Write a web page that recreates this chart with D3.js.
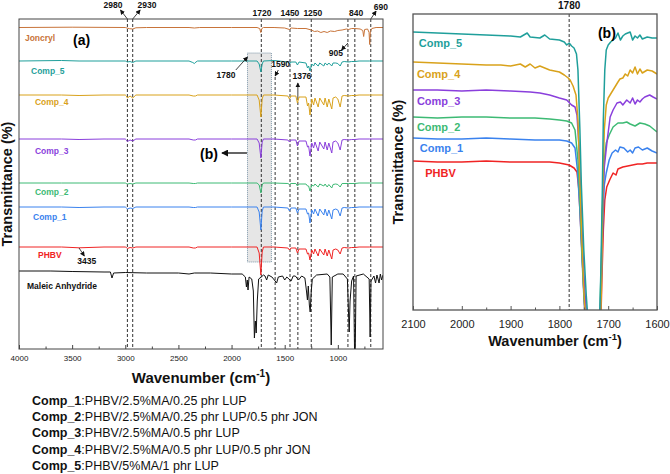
<!DOCTYPE html>
<html>
<head>
<meta charset="utf-8">
<script src="https://cdn.jsdelivr.net/npm/d3@7"></script>
<style>
  body { margin: 0; background: #fff; }
  svg { display: block; font-family: "Liberation Sans", Arial, sans-serif; }
</style>
</head>
<body>
<script>
// ---------- data: panel (a), [wavenumber, change from baseline] ----------
const seriesNames = ["Joncryl", "Comp_5", "Comp_4", "Comp_3", "Comp_2", "Comp_1", "PHBV", "Maleic Anhydride"];
const seriesOffsets = [321.5, 288, 254, 210, 166, 142, 102, 78];

const joncryl = [[4000,0],[3500,0.3],[3000,0],[2985,-0.5],[2960,-1.2],[2930,-1.5],[2900,-0.3],[2800,0],[2400,0],[2350,-0.5],[2300,0],[2000,0],
  [1760,0],[1735,-1],[1725,-5],[1715,-1],[1700,0],[1600,0],[1500,-0.5],[1455,-2],[1440,-0.5],[1380,-1],[1300,-1],[1250,-2.5],[1220,-4],
  [1190,-3.5],[1160,-5],[1130,-4],[1100,-5],[1070,-3.5],[1030,-4],[1000,-3],[960,-2.5],[920,-1.5],[900,-2],[870,-1],[840,-1],[790,-1.5],
  [765,-3],[757,-9],[748,-2],[720,-1.5],[706,-5],[700,-17],[694,-4],[680,-1],[640,0],[575,0]];
const comp5 = [[4000,0],[3600,0.5],[3435,0],[3200,0],[3000,0],[2990,-0.5],[2980,-1],[2955,-0.5],[2930,-1.5],[2900,0],[2400,0],[2365,-1.5],
  [2350,-2.5],[2335,-1],[2320,0],[2000,0],[1760,0],[1740,-3],[1724,-11],[1712,-3],[1700,0],[1600,0.5],[1470,-1],[1455,-3],[1440,-1],
  [1395,-1],[1380,-4],[1365,-1],[1300,-2],[1285,-7],[1275,-5],[1262,-10],[1245,-3],[1228,-5],[1215,-2],[1185,-5],[1170,-2],[1132,-5],
  [1120,-2],[1100,-4],[1085,-2],[1057,-5],[1045,-2],[1020,-2],[1000,-2.5],[978,-5],[960,-1],[940,-0.5],[900,-1],[870,-0.5],[840,-0.5],
  [800,0],[700,0],[575,0]];
const comp4 = [[4000,0],[3600,0],[3435,-0.5],[3200,0],[3000,0],[2990,-1],[2980,-3],[2955,-1],[2930,-3],[2900,0],[2400,0],[2360,-1],
  [2340,-1],[2320,0],[2000,0],[1760,0],[1740,-5],[1724,-22],[1712,-4],[1700,0],[1600,0],[1470,-1],[1455,-4],[1440,-1],[1395,-1],
  [1380,-8],[1365,-2],[1300,-2],[1285,-11],[1275,-8],[1262,-20],[1245,-4],[1228,-10],[1215,-3],[1185,-12],[1170,-3],[1132,-10],
  [1120,-3],[1100,-12],[1085,-4],[1057,-14],[1045,-3],[1020,-2],[1000,-4],[978,-12],[960,-1],[940,-0.5],[900,-1],[870,-0.5],
  [840,-0.5],[800,0],[700,0],[575,0]];
const comp3 = [[4000,0],[3600,0],[3435,-0.5],[3200,0],[3000,0],[2990,-1],[2980,-2.5],[2955,-1],[2930,-2],[2900,0],[2400,0],[2360,-1],
  [2340,-1],[2320,0],[2000,0],[1760,0],[1740,-4],[1724,-19],[1712,-3],[1700,0],[1600,0],[1470,-1],[1455,-3],[1440,-1],[1395,-1],
  [1380,-7],[1365,-2],[1300,-2],[1285,-8],[1275,-7],[1262,-17],[1245,-4],[1228,-9],[1215,-3],[1185,-12],[1170,-3],[1132,-10],
  [1120,-3],[1100,-11],[1085,-4],[1057,-14],[1045,-3],[1020,-2],[1000,-4],[978,-11],[960,-1],[940,-0.5],[900,-1],[870,-0.5],
  [840,-0.5],[800,0],[700,0],[575,0]];
const comp2 = [[4000,0],[3600,0],[3435,0],[3200,0],[3000,0],[2990,-0.5],[2980,-1],[2955,-0.5],[2930,-1],[2900,0],[2400,0],[2360,-0.5],
  [2340,-0.5],[2320,0],[2000,0],[1760,0],[1740,-2],[1724,-10],[1712,-2],[1700,0],[1600,0],[1470,-0.5],[1455,-1.5],[1440,-0.5],
  [1395,-0.5],[1380,-3],[1365,-1],[1300,-1],[1285,-3],[1275,-3],[1262,-8],[1245,-2],[1228,-3],[1215,-1],[1185,-4],[1170,-1],
  [1132,-3],[1120,-1],[1100,-4],[1085,-1.5],[1057,-5],[1045,-1.5],[1020,-1],[1000,-1.5],[978,-4],[960,-0.5],[900,-0.5],[840,-0.5],
  [800,0],[700,0],[575,0]];
const comp1 = [[4000,0],[3600,0],[3435,-0.5],[3200,0],[3000,0],[2990,-1],[2980,-2],[2955,-1],[2930,-1.5],[2900,0],[2400,0],[2360,-0.5],
  [2340,-0.5],[2320,0],[2000,0],[1760,0],[1740,-5],[1724,-23],[1712,-4],[1700,0],[1600,0],[1470,-1],[1455,-4],[1440,-1],[1395,-1],
  [1380,-6],[1365,-2],[1300,-2],[1285,-7],[1275,-6],[1262,-16],[1245,-3],[1228,-7],[1215,-2],[1185,-9],[1170,-2],[1132,-8],
  [1120,-2],[1100,-9],[1085,-3],[1057,-12],[1045,-3],[1020,-2],[1000,-3],[978,-9],[960,-1],[940,-0.5],[900,-1],[870,-0.5],
  [840,-0.5],[800,0],[700,0],[575,0]];
const phbv = [[4000,0],[3600,0],[3435,-0.8],[3200,0],[3000,0],[2990,-0.5],[2980,-1.5],[2955,-0.5],[2930,-1],[2900,0],[2400,0],
  [2360,-1],[2340,-1],[2320,0],[2000,0],[1760,0],[1740,-6],[1724,-28],[1712,-5],[1700,0],[1600,0],[1470,-1],[1455,-3],[1440,-1],
  [1395,-1],[1380,-6],[1365,-2],[1300,-2],[1285,-7],[1275,-6],[1262,-13],[1245,-3],[1228,-7],[1215,-2],[1185,-9],[1170,-2],
  [1132,-8],[1120,-2],[1100,-9],[1085,-3],[1057,-12],[1045,-3],[1020,-2],[1000,-3],[978,-7],[960,-1],[940,-0.5],[900,-1],
  [870,-0.5],[840,-0.5],[800,0],[700,0],[575,0]];
const maleic = [[4000,0],[3700,0],[3500,-0.5],[3200,-1],[3140,-1],[3125,-7],[3110,-2],[3000,-1.5],[2800,-2],[2500,-2],[2400,-3],
  [2350,-2],[2200,-2],[2000,-3],[1900,-3],[1870,-6],[1860,-16],[1852,-9],[1845,-19],[1835,-6],[1810,-8],[1795,-20],[1785,-67],
  [1776,-50],[1768,-62],[1758,-30],[1745,-8],[1720,-6],[1700,-4],[1685,-5],[1670,-9],[1655,-4],[1620,-6],[1590,-10],[1576,-12],
  [1560,-6],[1520,-5],[1500,-9],[1480,-6],[1460,-8],[1440,-10],[1420,-5],[1400,-5],[1370,-9],[1340,-5],[1310,-7],[1295,-20],
  [1286,-29],[1278,-15],[1268,-34],[1260,-41],[1250,-20],[1240,-8],[1200,-4],[1100,-3],[1075,-6],[1062,-74],[1052,-6],[1000,-3],
  [950,-3],[910,-8],[900,-40],[893,-61],[885,-30],[870,-10],[852,-5],[843,-78],[836,-78],[828,-5],[760,-3],[705,-8],[696,-66],
  [688,-10],[660,-5],[645,-12],[632,-4],[612,-12],[600,-3],[588,-9],[575,-4]];
const spectraA = [joncryl, comp5, comp4, comp3, comp2, comp1, phbv, maleic];

// label anchors for panel (a): [wavenumber, level]
const labelPosA = [[3944,308],[3887,275],[3850,244],[3850,195],[3850,154],[3868,129],[3821,91],[3925,60]];

// peak markers in panel (a): [wavenumber, top level]
const peakLines = [[2980,330],[2930,330],[1720,330],[1590,272],[1450,330],[1376,252],[1250,330],[905,330],[840,330],[690,330]];
// peak labels: [text, wavenumber, level]
const peakLabels = [["2980",3116,341.5],["2930",2796,341.5],["1720",1714,333],["1450",1451,333],["1250",1235,333],
  ["840",828,333],["690",595,339.5],["905",1018,293],["1780",2053,271],["1590",1538,282],["1376",1338,270],["3435",3363,85]];
// arrows: [from wn, from level, to wn, to level] (head at "to")
const peakArrows = [[2980,330,3045,339],[2930,330,2860,339],[690,330,640,338],[905,306,965,299],[1960,279,1850,292],
  [1560,279,1590,273],[1376,252,1376,266],[3435,101,3385,93],[1855,196,2090,196]];
const zoomBox = [1850, 1625, 296, 87];

const xTicksA = [4000, 3500, 3000, 2500, 2000, 1500, 1000];
const xMinorA = [3750, 3250, 2750, 2250, 1750, 1250, 750];

// ---------- data: panel (b), [wavenumber, level] ----------
const namesB = ["PHBV", "Comp_1", "Comp_2", "Comp_3", "Comp_4", "Comp_5"];
const phbvB = [[2100,149],[2050,148],[2000,148],[1950,149],[1900,148],[1850,148],[1820,148],[1800,147],[1790,146],[1780,145],[1770,142],
  [1764,138],[1760,120],[1756,80],[1752,40],[1748,0],[1740,-40],[1730,-80],[1722,-60],[1716,-30],[1713,30],[1710,80],[1707,110],
  [1703,123],[1697,130],[1690,137],[1684,135],[1680,141],[1670,143],[1660,144],[1650,145],[1640,146],[1630,146],[1620,147],
  [1610,147],[1600,147]];
const comp1B = [[2100,172],[2050,171],[2000,171],[1950,172],[1900,171],[1850,170],[1800,170],[1785,169],[1775,167],[1768,162],
  [1763,140],[1758,100],[1754,55],[1750,15],[1745,-25],[1730,-70],[1722,-60],[1717,-25],[1714,30],[1711,90],[1708,125],[1704,137],
  [1698,150],[1692,157],[1685,160],[1680,158],[1676,163],[1668,162],[1660,158],[1655,160],[1650,157],[1645,162],[1638,163],
  [1630,160],[1620,162],[1610,159],[1600,157]];
const comp2B = [[2100,193],[2050,192],[2000,193],[1950,193],[1900,192],[1850,192],[1820,191],[1800,190],[1785,189],[1775,187],
  [1768,180],[1762,150],[1758,110],[1754,60],[1750,20],[1745,-20],[1730,-70],[1722,-60],[1718,-20],[1714,50],[1711,110],[1708,150],
  [1704,167],[1698,175],[1690,183],[1680,187],[1670,187],[1662,188],[1655,186],[1645,184],[1635,187],[1625,186],[1615,184],
  [1605,180],[1600,178]];
const comp3B = [[2100,220],[2050,220],[2000,219],[1950,220],[1900,219],[1860,218],[1840,217],[1820,215],[1800,212],[1785,210],
  [1775,205],[1768,203],[1764,195],[1760,165],[1756,110],[1752,60],[1748,20],[1742,-20],[1730,-70],[1722,-60],[1717,-20],[1714,40],
  [1711,110],[1708,143],[1702,170],[1696,193],[1690,200],[1682,207],[1675,208],[1670,205],[1662,210],[1655,207],[1650,212],
  [1645,206],[1640,210],[1635,208],[1630,211],[1625,213],[1615,215],[1608,213],[1600,211]];
const comp4B = [[2100,248],[2050,247],[2000,246],[1950,245],[1920,245],[1900,244],[1880,246],[1870,243],[1860,246],[1850,242],
  [1840,244],[1820,240],[1800,238],[1790,235],[1782,232],[1778,230],[1772,224],[1766,215],[1762,190],[1758,130],[1754,70],
  [1750,20],[1745,-20],[1730,-70],[1722,-60],[1716,-20],[1714,20],[1711,120],[1708,180],[1704,205],[1700,212],[1695,216],
  [1690,220],[1685,224],[1680,228],[1676,231],[1670,232],[1665,236],[1660,234],[1655,240],[1650,237],[1645,243],[1640,236],
  [1635,241],[1630,237],[1620,240],[1610,239],[1600,236]];
const comp5B = [[2100,278],[2050,277],[2000,276],[1950,275],[1900,274],[1880,273],[1866,277],[1860,273],[1840,272],[1830,275],
  [1820,271],[1800,270],[1790,268],[1785,265],[1780,267],[1775,264],[1770,262],[1765,256],[1762,240],[1758,180],[1755,125],
  [1750,60],[1745,15],[1740,-20],[1730,-60],[1724,-50],[1718,-20],[1715,40],[1712,120],[1710,190],[1707,240],[1704,260],
  [1700,265],[1695,268],[1690,270],[1685,272],[1680,277],[1675,270],[1670,274],[1665,276],[1660,277],[1655,278],[1650,270],
  [1645,274],[1640,272],[1635,275],[1630,271],[1620,273],[1610,272],[1600,272]];
const spectraB = [phbvB, comp1B, comp2B, comp3B, comp4B, comp5B];
const labelPosB = [[2075,133],[2086,158],[2092,179],[2092,205],[2092,232],[2088,263]];

const xTicksB = [2100, 2000, 1900, 1800, 1700, 1600];
const xMinorB = [2050, 1950, 1850, 1750, 1650];

const compLegend = [["Comp_1", ":PHBV/2.5%MA/0.25 phr LUP"],
  ["Comp_2", ":PHBV/2.5%MA/0.25 phr LUP/0.5 phr JON"],
  ["Comp_3", ":PHBV/2.5%MA/0.5 phr LUP"],
  ["Comp_4", ":PHBV/2.5%MA/0.5 phr LUP/0.5 phr JON"],
  ["Comp_5", ":PHBV/5%MA/1 phr LUP"]];

// ---------- styles ----------
const colorOf = {
  "Joncryl": "#c8743a", "Comp_5": "#1f9f9b", "Comp_4": "#d9a21b", "Comp_3": "#8a3fdc",
  "Comp_2": "#3dba74", "Comp_1": "#3a82ee", "PHBV": "#f02424", "Maleic Anhydride": "#111"
};

const width = 670, height = 474;
const svg = d3.select("body").append("svg").attr("width", width).attr("height", height);

const defs = svg.append("defs");
defs.append("marker").attr("id", "arr").attr("viewBox", "0 0 8 8")
  .attr("refX", 7).attr("refY", 4).attr("markerWidth", 5).attr("markerHeight", 5)
  .attr("markerUnits", "userSpaceOnUse").attr("orient", "auto")
  .append("path").attr("d", "M0,0 L8,4 L0,8 z").attr("fill", "#111");
defs.append("marker").attr("id", "arrBig").attr("viewBox", "0 0 8 8")
  .attr("refX", 7).attr("refY", 4).attr("markerWidth", 7).attr("markerHeight", 7)
  .attr("markerUnits", "userSpaceOnUse").attr("orient", "auto")
  .append("path").attr("d", "M0,0 L8,4 L0,8 z").attr("fill", "#111");

// ================= panel (a) =================
const xA = d3.scaleLinear().domain([4000, 575]).range([19, 383]);
const yA = d3.scaleLinear().domain([0, 330]).range([349, 19]);

defs.append("clipPath").attr("id", "clipA").append("rect")
  .attr("x", 19).attr("y", 19).attr("width", 364).attr("height", 330);

const gA = svg.append("g");

// grey zoom box
gA.append("rect")
  .attr("x", xA(zoomBox[0])).attr("y", yA(zoomBox[2]))
  .attr("width", xA(zoomBox[1]) - xA(zoomBox[0])).attr("height", yA(zoomBox[3]) - yA(zoomBox[2]))
  .attr("fill", "#e6e6e6").attr("stroke", "#5f7f95").attr("stroke-width", 0.8).attr("stroke-dasharray", "1,1");

// dashed peak lines
gA.selectAll(".peak").data(peakLines).join("line")
  .attr("x1", d => xA(d[0])).attr("x2", d => xA(d[0]))
  .attr("y1", d => yA(d[1])).attr("y2", yA(0))
  .attr("stroke", "#333").attr("stroke-width", 1).attr("stroke-dasharray", "3,2");

const lineA = off => d3.line().x(d => xA(d[0])).y(d => yA(off + d[1]));
gA.append("g").attr("clip-path", "url(#clipA)")
  .selectAll("path").data(spectraA).join("path")
  .attr("d", (d, i) => lineA(seriesOffsets[i])(d))
  .attr("fill", "none").attr("stroke", (d, i) => colorOf[seriesNames[i]])
  .attr("stroke-width", 1).attr("stroke-linejoin", "round");

// series labels
gA.selectAll(".lab").data(seriesNames).join("text")
  .attr("x", (d, i) => xA(labelPosA[i][0])).attr("y", (d, i) => yA(labelPosA[i][1]))
  .attr("fill", d => colorOf[d]).attr("font-size", 8.5).attr("font-weight", "bold").text(d => d);

// peak labels and arrows
gA.selectAll(".pl").data(peakLabels).join("text")
  .attr("x", d => xA(d[1])).attr("y", d => yA(d[2])).attr("text-anchor", "middle")
  .attr("font-size", 8.5).attr("font-weight", "bold").attr("fill", "#111").text(d => d[0]);
gA.selectAll(".pa").data(peakArrows).join("line")
  .attr("x1", d => xA(d[0])).attr("y1", d => yA(d[1])).attr("x2", d => xA(d[2])).attr("y2", d => yA(d[3]))
  .attr("stroke", "#111").attr("stroke-width", (d, i) => i === peakArrows.length - 1 ? 1.3 : 0.8)
  .attr("marker-end", (d, i) => i === peakArrows.length - 1 ? "url(#arrBig)" : "url(#arr)");

gA.append("text").attr("x", xA(2297)).attr("y", yA(190)).attr("font-size", 14).attr("font-weight", "bold").text("(b)");
gA.append("text").attr("x", xA(3492)).attr("y", yA(304)).attr("font-size", 14).attr("font-weight", "bold").text("(a)");

// frame + axis
gA.append("rect").attr("x", 19).attr("y", 19).attr("width", 364).attr("height", 330)
  .attr("fill", "none").attr("stroke", "#444").attr("stroke-width", 1);
const axA = gA.append("g").attr("transform", `translate(0,${yA(0)})`)
  .call(d3.axisBottom(xA).tickValues(xTicksA).tickSizeInner(-4).tickSizeOuter(0).tickPadding(6).tickFormat(d3.format("d")));
axA.select(".domain").remove();
axA.selectAll("text").attr("font-size", 8).attr("fill", "#222").attr("font-family", "Liberation Sans, Arial, sans-serif");
axA.selectAll("line").attr("stroke", "#444");
const axAm = gA.append("g").attr("transform", `translate(0,${yA(0)})`)
  .call(d3.axisBottom(xA).tickValues(xMinorA).tickSize(-2.5).tickFormat(""));
axAm.select(".domain").remove();
axAm.selectAll("line").attr("stroke", "#444");

const tA = gA.append("text").attr("x", 201).attr("y", 383).attr("text-anchor", "middle")
  .attr("font-size", 15).attr("font-weight", "bold").attr("fill", "#111");
tA.append("tspan").text("Wavenumber (cm");
tA.append("tspan").attr("dy", -6).attr("font-size", 10).text("-1");
tA.append("tspan").attr("dy", 6).text(")");

gA.append("text").attr("transform", "translate(12,184) rotate(-90)").attr("text-anchor", "middle")
  .attr("font-size", 14.5).attr("font-weight", "bold").attr("fill", "#111").text("Transmittance (%)");

// ================= panel (b) =================
const xB = d3.scaleLinear().domain([2100, 1600]).range([413, 657]);
const yB = d3.scaleLinear().domain([0, 296]).range([310, 14]);

defs.append("clipPath").attr("id", "clipB").append("rect")
  .attr("x", 413).attr("y", 14).attr("width", 244).attr("height", 296);

const gB = svg.append("g");
gB.append("line").attr("x1", xB(1780)).attr("x2", xB(1780)).attr("y1", yB(296)).attr("y2", yB(0))
  .attr("stroke", "#333").attr("stroke-width", 1).attr("stroke-dasharray", "3,2");
gB.append("text").attr("x", xB(1780)).attr("y", yB(301)).attr("text-anchor", "middle")
  .attr("font-size", 10).attr("font-weight", "bold").attr("fill", "#111").text("1780");

const lineB = d3.line().x(d => xB(d[0])).y(d => yB(d[1]));
gB.append("g").attr("clip-path", "url(#clipB)")
  .selectAll("path").data(spectraB).join("path")
  .attr("d", d => lineB(d))
  .attr("fill", "none").attr("stroke", (d, i) => colorOf[namesB[i]])
  .attr("stroke-width", 1.5).attr("stroke-linejoin", "round");

gB.selectAll(".lb").data(namesB).join("text")
  .attr("x", (d, i) => xB(labelPosB[i][0])).attr("y", (d, i) => yB(labelPosB[i][1]))
  .attr("fill", d => colorOf[d]).attr("font-size", 11).attr("font-weight", "bold").text(d => d);
gB.append("text").attr("x", xB(1721)).attr("y", yB(272)).attr("font-size", 14).attr("font-weight", "bold").text("(b)");

gB.append("rect").attr("x", 413).attr("y", 14).attr("width", 244).attr("height", 296)
  .attr("fill", "none").attr("stroke", "#555").attr("stroke-width", 1.3);
const axB = gB.append("g").attr("transform", `translate(0,${yB(0)})`)
  .call(d3.axisBottom(xB).tickValues(xTicksB).tickSizeInner(-4).tickSizeOuter(0).tickPadding(10).tickFormat(d3.format("d")));
axB.select(".domain").remove();
axB.selectAll("text").attr("font-size", 11).attr("fill", "#222").attr("font-family", "Liberation Sans, Arial, sans-serif");
axB.selectAll("line").attr("stroke", "#555");
const axBm = gB.append("g").attr("transform", `translate(0,${yB(0)})`)
  .call(d3.axisBottom(xB).tickValues(xMinorB).tickSize(-2.5).tickFormat(""));
axBm.select(".domain").remove();
axBm.selectAll("line").attr("stroke", "#555");

const tB = gB.append("text").attr("x", 555).attr("y", 346).attr("text-anchor", "middle")
  .attr("font-size", 14.5).attr("font-weight", "bold").attr("fill", "#111");
tB.append("tspan").text("Wavenumber (cm");
tB.append("tspan").attr("dy", -6).attr("font-size", 9.5).text("-1");
tB.append("tspan").attr("dy", 6).text(")");

gB.append("text").attr("transform", "translate(403,162) rotate(-90)").attr("text-anchor", "middle")
  .attr("font-size", 14.5).attr("font-weight", "bold").attr("fill", "#111").text("Transmittance (%)");

// ================= composition legend =================
const leg = svg.append("g");
leg.selectAll("text").data(compLegend).join("text")
  .attr("x", 32).attr("y", (d, i) => 404.5 + i * 16.4)
  .attr("font-size", 12.5).attr("fill", "#111")
  .each(function (d) {
    const t = d3.select(this);
    t.append("tspan").attr("font-weight", "bold").text(d[0]);
    t.append("tspan").text(d[1]);
  });
</script>
</body>
</html>
